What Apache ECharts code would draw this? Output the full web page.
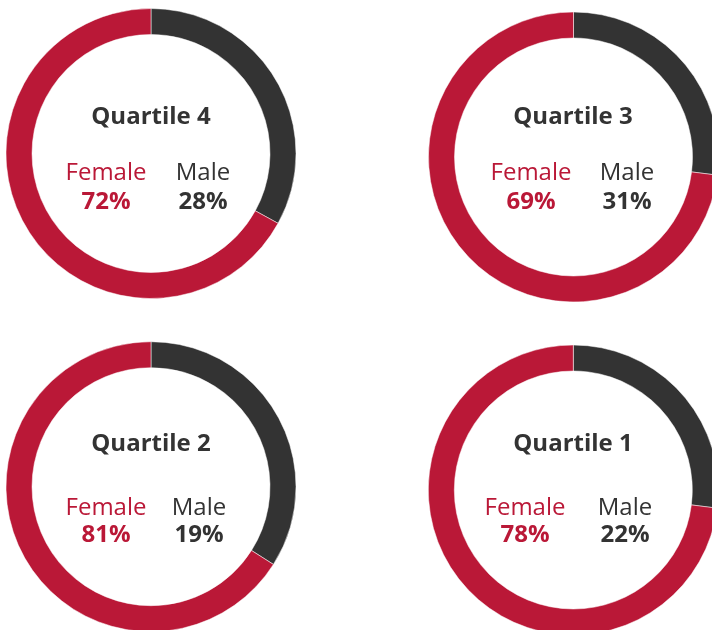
<!DOCTYPE html>
<html>
<head>
<meta charset="utf-8">
<script src="https://cdn.jsdelivr.net/npm/echarts@6/dist/echarts.min.js"></script>
<style>
html,body{margin:0;padding:0;background:#fff;}
#chart{width:712px;height:630px;}
</style>
</head>
<body>
<div id="chart"></div>
<script>
// ---- data ----
var quartiles = ['Quartile 4', 'Quartile 3', 'Quartile 2', 'Quartile 1'];
var femaleLabelPct = [72, 69, 81, 78];
var maleLabelPct = [28, 31, 19, 22];
// ring arc shares as drawn in the picture (male segment starts at 12 o'clock)
var ringMale = [33, 27, 34, 27];
var ringFemale = [67, 73, 66, 73];
var seriesNames = ['Male', 'Female'];

// ---- layout / style ----
var RED = '#BA1837';
var DARK = '#333333';
var FONT = 'Open Sans';
var layout = [
  {c: [151, 153.5], tx: 151, fx: 106, mx: 203, ty: 117, ly: 173, py: 202},
  {c: [573.5, 157], tx: 573, fx: 531, mx: 627, ty: 117, ly: 173, py: 202},
  {c: [151, 486.7], tx: 151, fx: 106, mx: 199, ty: 444, ly: 508, py: 535},
  {c: [573.3, 490], tx: 573, fx: 525, mx: 625, ty: 444, ly: 508, py: 535}
];

var series = [];
var graphics = [];
quartiles.forEach(function (q, i) {
  var L = layout[i];
  series.push({
    type: 'pie',
    name: q,
    center: L.c,
    radius: [119, 145],
    startAngle: 90,
    clockwise: true,
    silent: true,
    animation: false,
    label: {show: false},
    labelLine: {show: false},
    itemStyle: {borderColor: '#ffffff', borderWidth: 0.5},
    data: [
      {name: seriesNames[0], value: ringMale[i], itemStyle: {color: DARK}},
      {name: seriesNames[1], value: ringFemale[i], itemStyle: {color: RED}}
    ]
  });
  function txt(x, y, s, color, weight) {
    graphics.push({
      type: 'text', x: x, y: y, silent: true,
      style: {text: s, fill: color, font: weight + ' 24px "' + FONT + '"', align: 'center', verticalAlign: 'middle'}
    });
  }
  txt(L.tx, L.ty, q, DARK, 'bold');
  txt(L.fx, L.ly, 'Female', RED, 'normal');
  txt(L.mx, L.ly, 'Male', DARK, 'normal');
  txt(L.fx, L.py, femaleLabelPct[i] + '%', RED, 'bold');
  txt(L.mx, L.py, maleLabelPct[i] + '%', DARK, 'bold');
});

var chart = echarts.init(document.getElementById('chart'), null, {renderer: 'canvas'});
chart.setOption({
  animation: false,
  backgroundColor: '#ffffff',
  series: series,
  graphic: graphics
});
</script>
</body>
</html>
